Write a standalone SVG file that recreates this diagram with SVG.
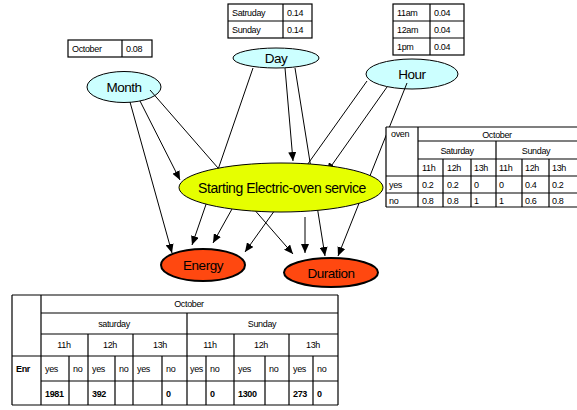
<svg xmlns="http://www.w3.org/2000/svg" width="577" height="410" viewBox="0 0 577 410">
  <style>
    .bg { fill: #ffffff; }
    .var { fill: #ccffff; stroke: #000; stroke-width: 1; }
    .mid { fill: #e6ff00; stroke: #000; stroke-width: 1; }
    .out { fill: #ff4810; stroke: #000; stroke-width: 2; }
    .lbl { font-family: "Liberation Sans", Arial, sans-serif; font-size: 13.5px; letter-spacing: -0.5px; fill: #000; text-anchor: middle; dominant-baseline: central; }
    .big { font-size: 14px; letter-spacing: -0.45px; }
    .edge { stroke: #000; stroke-width: 1; fill: none; marker-end: url(#arr); }
    .grid { stroke: #000; stroke-width: 1.2; fill: none; }
    .cell { fill: #fff; stroke: #000; stroke-width: 1.2; }
    .t { font-family: "Liberation Sans", Arial, sans-serif; font-size: 9px; letter-spacing: -0.35px; fill: #000; }
    .c { text-anchor: middle; }
    .b { font-weight: bold; }
  </style>
  <defs>
    <marker id="arr" markerUnits="userSpaceOnUse" markerWidth="10" markerHeight="8" refX="9" refY="4" orient="auto">
      <path d="M0,0 L9,4 L0,8 Z" fill="#000"/>
    </marker>
  </defs>
  <rect class="bg" x="0" y="0" width="577" height="410"/>

  <!-- root variables -->
  <g id="month">
    <ellipse class="var" cx="124" cy="87" rx="37" ry="15.5"/>
    <text class="lbl" x="124" y="87">Month</text>
  </g>
  <g id="day">
    <ellipse class="var" cx="276" cy="58" rx="43" ry="10"/>
    <text class="lbl" x="276" y="58">Day</text>
  </g>
  <g id="hour">
    <ellipse class="var" cx="412" cy="74" rx="46" ry="15"/>
    <text class="lbl" x="412" y="74">Hour</text>
  </g>

  <!-- connectors -->
  <g id="edges">
    <line class="edge" x1="140" y1="101" x2="180" y2="180"/>
    <line class="edge" x1="130" y1="102" x2="172" y2="253"/>
    <line class="edge" x1="150" y1="90" x2="293" y2="254"/>
    <line class="edge" x1="285" y1="68" x2="293" y2="161"/>
    <line class="edge" x1="253" y1="68" x2="192" y2="245"/>
    <line class="edge" x1="295" y1="68" x2="325" y2="256"/>
    <line class="edge" x1="387" y1="87" x2="327" y2="172"/>
    <line class="edge" x1="367" y1="81" x2="245" y2="252"/>
    <line class="edge" x1="407" y1="83" x2="338" y2="256"/>
    <line class="edge" x1="232" y1="209" x2="213" y2="243"/>
    <line class="edge" x1="305" y1="217" x2="305" y2="253"/>
  </g>

  <g id="service">
    <ellipse class="mid" cx="281" cy="187.5" rx="102" ry="24.5"/>
    <text class="lbl big" x="282" y="188">Starting Electric-oven service</text>
  </g>
  <g id="energy">
    <ellipse class="out" cx="203" cy="265" rx="42" ry="16"/>
    <text class="lbl" x="203" y="265">Energy</text>
  </g>
  <g id="duration">
    <ellipse class="out" cx="331" cy="272.5" rx="47" ry="14.5"/>
    <text class="lbl" x="331" y="273">Duration</text>
  </g>

  <!-- probability of Month -->
  <g id="tbl-month">
    <rect class="cell" x="68" y="40" width="84" height="17"/>
    <line class="grid" x1="122" y1="40" x2="122" y2="57"/>
    <text class="t" x="72" y="52">October</text>
    <text class="t" x="126" y="52">0.08</text>
  </g>

  <!-- probability of Day -->
  <g id="tbl-day">
    <rect class="cell" x="228" y="4" width="84" height="34"/>
    <line class="grid" x1="228" y1="21" x2="312" y2="21"/>
    <line class="grid" x1="283" y1="4" x2="283" y2="38"/>
    <text class="t" x="232" y="16">Satruday</text>
    <text class="t" x="287" y="16">0.14</text>
    <text class="t" x="232" y="33">Sunday</text>
    <text class="t" x="287" y="33">0.14</text>
  </g>

  <!-- probability of Hour -->
  <g id="tbl-hour">
    <rect class="cell" x="393" y="4" width="71" height="51"/>
    <line class="grid" x1="393" y1="21" x2="464" y2="21"/>
    <line class="grid" x1="393" y1="38" x2="464" y2="38"/>
    <line class="grid" x1="430" y1="4" x2="430" y2="55"/>
    <text class="t" x="397" y="16">11am</text>
    <text class="t" x="434" y="16">0.04</text>
    <text class="t" x="397" y="33">12am</text>
    <text class="t" x="434" y="33">0.04</text>
    <text class="t" x="397" y="50">1pm</text>
    <text class="t" x="434" y="50">0.04</text>
  </g>

  <!-- conditional table of the service node -->
  <g id="tbl-oven">
    <rect x="386" y="127" width="193" height="80" fill="#fff"/>
    <path class="grid" d="M386,127 H579 M418,141 H579 M418,159 H579 M386,176 H579 M386,193 H579 M386,207 H579
      M386,127 V207 M418,127 V207 M496,141 V207 M443,159 V207 M471,159 V207 M522,159 V207 M549,159 V207"/>
    <text class="t" x="391" y="137">oven</text>
    <text class="t c" x="497" y="138">October</text>
    <text class="t c" x="457" y="154">Saturday</text>
    <text class="t c" x="536" y="154">Sunday</text>
    <text class="t" x="422" y="171">11h</text>
    <text class="t" x="447" y="171">12h</text>
    <text class="t" x="474" y="171">13h</text>
    <text class="t" x="499" y="171">11h</text>
    <text class="t" x="525" y="171">12h</text>
    <text class="t" x="552" y="171">13h</text>
    <text class="t" x="389" y="188">yes</text>
    <text class="t" x="422" y="188">0.2</text>
    <text class="t" x="447" y="188">0.2</text>
    <text class="t" x="474" y="188">0</text>
    <text class="t" x="499" y="188">0</text>
    <text class="t" x="525" y="188">0.4</text>
    <text class="t" x="552" y="188">0.2</text>
    <text class="t" x="389" y="204">no</text>
    <text class="t" x="422" y="204">0.8</text>
    <text class="t" x="447" y="204">0.8</text>
    <text class="t" x="474" y="204">1</text>
    <text class="t" x="499" y="204">1</text>
    <text class="t" x="525" y="204">0.6</text>
    <text class="t" x="552" y="204">0.8</text>
  </g>

  <!-- counts table -->
  <g id="tbl-counts">
    <rect x="12" y="295" width="326" height="110" fill="#fff"/>
    <path class="grid" d="M12,295 H338 M41,313 H338 M41,334 H338 M12,356 H338 M41,381 H338 M12,405 H338
      M12,295 V405 M41,295 V405 M338,295 V405 M187,313 V405
      M88,334 V405 M133,334 V405 M234,334 V405 M289,334 V405
      M69,356 V405 M115,356 V405 M162,356 V405 M206,356 V405 M265,356 V405 M313,356 V405"/>
    <text class="t c" x="189" y="307">October</text>
    <text class="t c" x="114" y="327">saturday</text>
    <text class="t c" x="262" y="327">Sunday</text>
    <text class="t c" x="64" y="348">11h</text>
    <text class="t c" x="110" y="348">12h</text>
    <text class="t c" x="160" y="348">13h</text>
    <text class="t c" x="210" y="348">11h</text>
    <text class="t c" x="261" y="348">12h</text>
    <text class="t c" x="313" y="348">13h</text>
    <text class="t b" x="16" y="372">Enr</text>
    <text class="t" x="45" y="372">yes</text>
    <text class="t" x="73" y="372">no</text>
    <text class="t" x="92" y="372">yes</text>
    <text class="t" x="119" y="372">no</text>
    <text class="t" x="137" y="372">yes</text>
    <text class="t" x="166" y="372">no</text>
    <text class="t" x="190" y="372">yes</text>
    <text class="t" x="210" y="372">no</text>
    <text class="t" x="238" y="372">yes</text>
    <text class="t" x="269" y="372">no</text>
    <text class="t" x="293" y="372">yes</text>
    <text class="t" x="317" y="372">no</text>
    <text class="t b" x="45" y="397">1981</text>
    <text class="t b" x="92" y="397">392</text>
    <text class="t b" x="166" y="397">0</text>
    <text class="t b" x="210" y="397">0</text>
    <text class="t b" x="238" y="397">1300</text>
    <text class="t b" x="293" y="397">273</text>
    <text class="t b" x="317" y="397">0</text>
  </g>
</svg>
